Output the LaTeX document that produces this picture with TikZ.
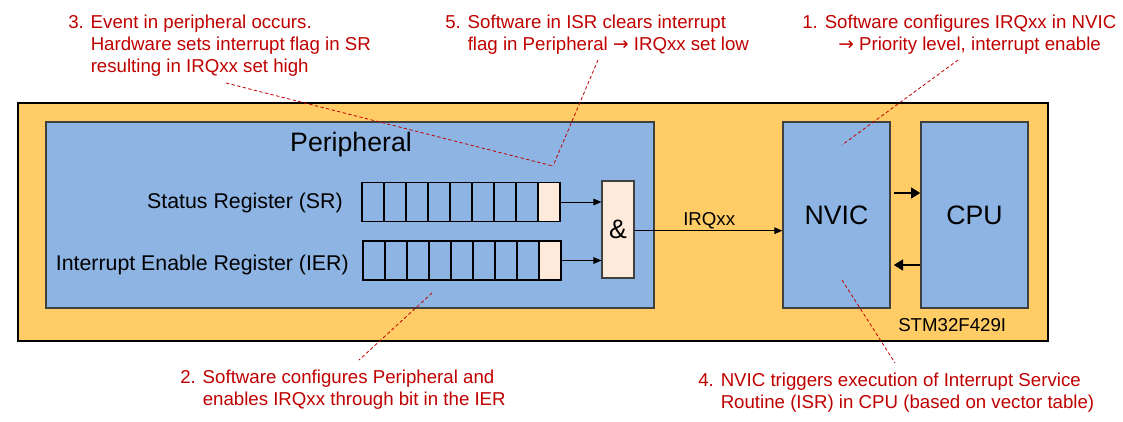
\documentclass[tikz,border=0pt]{standalone}
\usepackage{fontspec}
\setmainfont{Liberation Sans}
\newfontfamily\myarrowfont{DejaVu Sans}
\usetikzlibrary{arrows.meta}
\definecolor{capred}{RGB}{192,0,0}
\definecolor{bluefill}{RGB}{142,180,227}
\definecolor{orangefill}{RGB}{255,204,102}
\definecolor{peach}{RGB}{253,234,218}
\definecolor{edgegray}{RGB}{64,64,64}
\newcommand{\mycapfont}{\fontsize{14}{16.6}\selectfont}
\newcommand{\mylblfont}{\fontsize{16}{19}\selectfont}
\newcommand{\mybigfont}{\fontsize{20}{24}\selectfont}
\newcommand{\myarr}{{\myarrowfont →}}
\begin{document}
\begin{tikzpicture}[x=0.75pt,y=-0.75pt,
  outerbox/.style={draw=black, line width=1pt, fill=orangefill, inner sep=0pt},
  bluebox/.style={draw=edgegray, line width=1pt, fill=bluefill, inner sep=0pt, font=\mybigfont},
  cell/.style={draw=black, line width=0.9pt, fill=bluefill, inner sep=0pt, minimum width=16.5pt, minimum height=29.25pt},
  bitcell/.style={cell, fill=peach},
  andbox/.style={draw=edgegray, line width=0.9pt, fill=peach, inner sep=0pt, minimum width=24pt, minimum height=72.75pt, font=\mybigfont},
  thinarrow/.style={line width=0.75pt, -{Triangle[length=6pt,width=5pt]}},
  bigarrow/.style={line width=1.8pt, -{Triangle[length=7pt,width=8pt]}},
  leader/.style={draw=capred, line width=0.6pt, dash pattern=on 2.5pt off 1.8pt},
  caption/.style={text=capred, font=\mycapfont, inner sep=0pt, anchor=base west},
  reglbl/.style={font=\mylblfont, inner sep=0pt, anchor=base east},
  smalllbl/.style={font=\mycapfont, inner sep=0pt, anchor=base west}
]
\useasboundingbox (0,0) rectangle (1123,421);

% containers
\node[outerbox, minimum width=772.5pt, minimum height=178.5pt] (stm) at (533,222) {};
\node[bluebox, minimum width=456pt, minimum height=139.5pt] (per) at (350,215) {};
\node[bluebox, minimum width=80.25pt, minimum height=139.5pt] (nvic) at (836.5,215) {NVIC};
\node[bluebox, minimum width=80.25pt, minimum height=139.5pt] (cpu) at (974.5,215) {CPU};

% labels inside
\node[font=\mybigfont, inner sep=0pt, anchor=base] (perlbl) at (351,151.7) {Peripheral};
\node[reglbl] (srlbl) at (343,208.5) {Status Register (SR)};
\node[reglbl] (ierlbl) at (349,270.5) {Interrupt Enable Register (IER)};
\node[smalllbl] (stmlbl) at (898,331.7) {STM32F429I};

% registers
\foreach \i in {0,...,7} {
  \node[cell] (sr\i) at ({373+22*\i},202) {};
  \node[cell] (ier\i) at ({374+22*\i},260.5) {};
}
\node[bitcell] (sr8) at (549,202) {};
\node[bitcell] (ier8) at (550,260.5) {};

% AND gate
\node[andbox] (and) at (618,229.5) {\&};

% connectors
\draw[thinarrow] (sr8.east) -- (sr8.east -| and.west);
\draw[thinarrow] (ier8.east) -- (ier8.east -| and.west);
\draw[thinarrow] ([yshift=-0.9pt]and.east) -- ([yshift=-0.9pt]and.east -| nvic.west);
\node[smalllbl] (irqlbl) at (683,225.5) {IRQxx};
\draw[bigarrow] ([shift={(3,-22)}]nvic.east) -- ([shift={(0,-22)}]cpu.west);
\draw[bigarrow] ([shift={(0,50)}]cpu.west) -- ([shift={(3,50)}]nvic.east);

% captions
\node[caption] (cap3) at (68,28.3) {\begin{tabular}[t]{@{}l@{}}3. Event in peripheral occurs.\\ \phantom{3. }Hardware sets interrupt flag in SR\\ \phantom{3. }resulting in IRQxx set high\end{tabular}};
\node[caption] (cap5) at (445,28.3) {\begin{tabular}[t]{@{}l@{}}5. Software in ISR clears interrupt\\ \phantom{5. }flag in Peripheral \myarr{} IRQxx set low\end{tabular}};
\node[caption] (cap1) at (802,28.3) {\begin{tabular}[t]{@{}l@{}}1. Software configures IRQxx in NVIC\\ \hspace*{27pt}\myarr{} Priority level, interrupt enable\end{tabular}};
\node[caption] (cap2) at (180,383.3) {\begin{tabular}[t]{@{}l@{}}2. Software configures Peripheral and\\ \phantom{2. }enables IRQxx through bit in the IER\end{tabular}};
\node[caption] (cap4) at (698,386.7) {\begin{tabular}[t]{@{}l@{}}4. NVIC triggers execution of Interrupt Service\\ \phantom{4. }Routine (ISR) in CPU (based on vector table)\end{tabular}};

% leader lines
\coordinate (l3a) at (226,83);
\coordinate (l5a) at (598,60);
\coordinate (lx) at (553,166);
\coordinate (l1a) at (958,60);
\coordinate (l1b) at (842,145);
\coordinate (l2a) at (432,293);
\coordinate (l2b) at (359,360);
\coordinate (l4a) at (842,280);
\coordinate (l4b) at (895,363);
\draw[leader] (l3a) -- (lx);
\draw[leader] (l5a) -- (lx);
\draw[leader] (l1a) -- (l1b);
\draw[leader] (l2a) -- (l2b);
\draw[leader] (l4a) -- (l4b);
\end{tikzpicture}
\end{document}
